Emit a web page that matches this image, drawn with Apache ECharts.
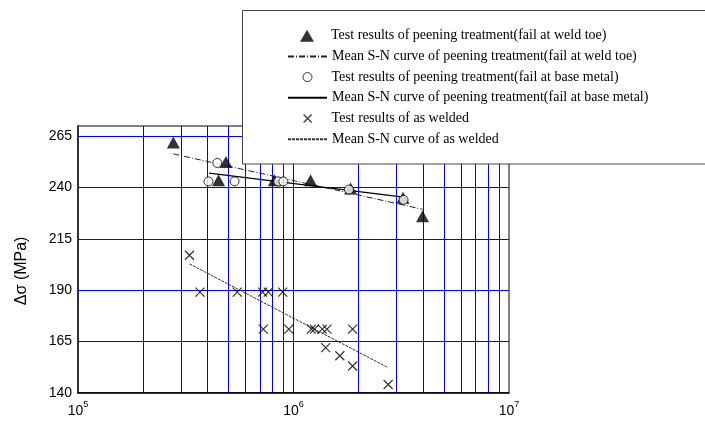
<!DOCTYPE html>
<html><head><meta charset="utf-8">
<script src="https://cdn.jsdelivr.net/npm/echarts@6/dist/echarts.min.js"></script>
<style>html,body{margin:0;padding:0;background:#fff}#c{width:705px;height:421px}</style>
</head><body><div id="c"></div>
<script>
// Test results of peening treatment (fail at weld toe)
const weldToeN = [2.77e5, 4.86e5, 4.49e5, 8.15e5, 1.20e6, 1.84e6, 3.22e6, 3.97e6];
const weldToeS = [262, 252.5, 243.5, 243.5, 243.5, 239.5, 235, 226];
// Test results of peening treatment (fail at base metal)
const baseN = [4.43e5, 4.03e5, 5.33e5, 8.49e5, 8.97e5, 1.81e6, 3.24e6];
const baseS = [252, 243, 243, 243, 243, 239, 234];
// Test results of as welded
const weldedN = [3.29e5, 3.68e5, 5.48e5, 7.19e5, 7.64e5, 8.91e5, 7.24e5, 9.51e5, 1.21e6, 1.25e6, 1.36e6, 1.43e6, 1.88e6, 1.41e6, 1.64e6, 1.88e6, 2.75e6];
const weldedS = [207, 189, 189, 189, 189, 189, 171, 171, 171, 171, 171, 171, 171, 162, 158, 153, 144];
// Mean S-N curves
const meanToeN = [2.77e5, 3.97e6];
const meanToeS = [256.4, 229.4];
const meanBaseN = [4.06e5, 3.24e6];
const meanBaseS = [247, 235.3];
const meanWeldedN = [3.29e5, 2.75e6];
const meanWeldedS = [202.8, 152.2];
// Axes
const yTicks = [140, 165, 190, 215, 240, 265];
const xDecades = [1e5, 1e6, 1e7];
const xGridLines = [2e5, 3e5, 4e5, 5e5, 6e5, 7e5, 8e5, 9e5, 1e6, 2e6, 3e6, 4e6, 5e6, 6e6, 7e6, 8e6, 9e6];
const yGridLines = [165, 190, 215, 240, 265];
const names = [
  'Test results of peening treatment(fail at weld toe)',
  'Mean S-N curve of peening treatment(fail at weld toe)',
  'Test results of peening treatment(fail at base metal)',
  'Mean S-N curve of peening treatment(fail at base metal)',
  'Test results of as welded',
  'Mean S-N curve of as welded'
];

const zip = (a, b) => a.map((v, i) => [v, b[i]]);
const crossPath = 'path://M0,0L10,10M10,0L0,10';

const legendRowCenters = [35.7, 56.4, 77.1, 97.8, 118.5, 139.2];
// icon box per row: [width, height]; symbols centred on x=307, text starts at x=331
const legendIcon = [[14, 12], [39, 14], [9, 9], [39, 14], [8, 8], [39, 14]];
const legendItemStyle = [
  {color: '#000'},
  {color: 'none', borderWidth: 0, opacity: 0},
  {color: '#fff', borderColor: '#000', borderWidth: 1},
  {color: 'none', borderWidth: 0, opacity: 0},
  {color: '#000', borderColor: '#000', borderWidth: 1.2},
  {color: 'none', borderWidth: 0, opacity: 0}
];
const legends = names.map((n, i) => {
  const w = legendIcon[i][0], h = legendIcon[i][1];
  const left = i % 2 === 0 ? 307 - w / 2 : 287;
  const padLeft = 331 - (left + w + 5);
  return {
    data: [{name: n, itemStyle: legendItemStyle[i]}],
    left: left, top: legendRowCenters[i] - 8, padding: 0,
    itemWidth: w, itemHeight: h, itemGap: 5,
    selectedMode: false, symbolKeepAspect: false,
    textStyle: {fontFamily: 'Liberation Serif', fontSize: 14, color: '#000', lineHeight: 16, padding: [0, 0, 0, padLeft]}
  };
});

const chart = echarts.init(document.getElementById('c'), null, {renderer: 'canvas'});
chart.setOption({
  animation: false,
  backgroundColor: '#fff',
  grid: {left: 78, right: 196, top: 126, bottom: 28.3, show: true, borderColor: '#000', borderWidth: 1, backgroundColor: 'transparent'},
  xAxis: {
    type: 'log', logBase: 10, min: xDecades[0], max: xDecades[2],
    axisLine: {show: true, lineStyle: {color: '#000', width: 1.5}},
    axisTick: {show: false},
    splitLine: {show: false},
    axisLabel: {
      margin: 7,
      formatter: v => '{b|10}{s|' + Math.round(Math.log10(v)) + '}',
      rich: {
        b: {fontFamily: 'Liberation Sans', fontSize: 14, color: '#000', lineHeight: 22},
        s: {fontFamily: 'Liberation Sans', fontSize: 9, color: '#000', lineHeight: 10, verticalAlign: 'top'}
      }
    }
  },
  yAxis: {
    type: 'value', min: yTicks[0], max: 270, interval: 5,
    name: 'Δσ (MPa)', nameLocation: 'middle', nameGap: 48,
    nameTextStyle: {fontFamily: 'Liberation Sans', fontSize: 16, color: '#000', padding: [0, 23, 0, 0]},
    axisLine: {show: true, lineStyle: {color: '#333', width: 2}},
    axisTick: {show: false},
    splitLine: {show: false},
    axisLabel: {
      margin: 6, showMaxLabel: false,
      fontFamily: 'Liberation Sans', fontSize: 14, color: '#000',
      formatter: v => yTicks.includes(v) ? String(v) : ''
    }
  },
  legend: legends,
  graphic: [{
    type: 'rect', z: 3, zlevel: 0, silent: true,
    shape: {x: 242.5, y: 10.5, width: 470, height: 153.5},
    style: {fill: '#fff', stroke: '#444', lineWidth: 1}
  }],
  series: [
    {
      name: '__grid', type: 'line', data: [], z: 1, silent: true,
      markLine: {
        z: 1, silent: true, symbol: ['none', 'none'], label: {show: false},
        lineStyle: {color: '#0000ff', width: 1, type: 'solid'},
        emphasis: {disabled: true},
        data: [...xGridLines.map(v => ({xAxis: v})), ...yGridLines.map(v => ({yAxis: v}))]
      }
    },
    {
      name: names[1], type: 'line', data: zip(meanToeN, meanToeS), symbol: 'none', z: 2,
      lineStyle: {color: '#222', width: 1, type: [6, 2, 1, 2]}
    },
    {
      name: names[3], type: 'line', data: zip(meanBaseN, meanBaseS), symbol: 'none', z: 2,
      lineStyle: {color: '#000', width: 1.2, type: 'solid'}
    },
    {
      name: names[5], type: 'line', data: zip(meanWeldedN, meanWeldedS), symbol: 'none', z: 2,
      lineStyle: {color: '#333', width: 1, type: [3, 1]}
    },
    {
      name: names[0], type: 'scatter', data: zip(weldToeN, weldToeS), z: 2,
      symbol: 'triangle', symbolSize: [13, 12],
      itemStyle: {color: '#000'}
    },
    {
      name: names[2], type: 'scatter', data: zip(baseN, baseS), z: 2,
      symbol: 'circle', symbolSize: 9,
      itemStyle: {color: '#fff', borderColor: '#000', borderWidth: 1}
    },
    {
      name: names[4], type: 'scatter', data: zip(weldedN, weldedS), z: 2,
      symbol: crossPath, symbolSize: 9,
      itemStyle: {color: '#000', borderColor: '#000', borderWidth: 1.2}
    }
  ]
});
</script></body></html>
